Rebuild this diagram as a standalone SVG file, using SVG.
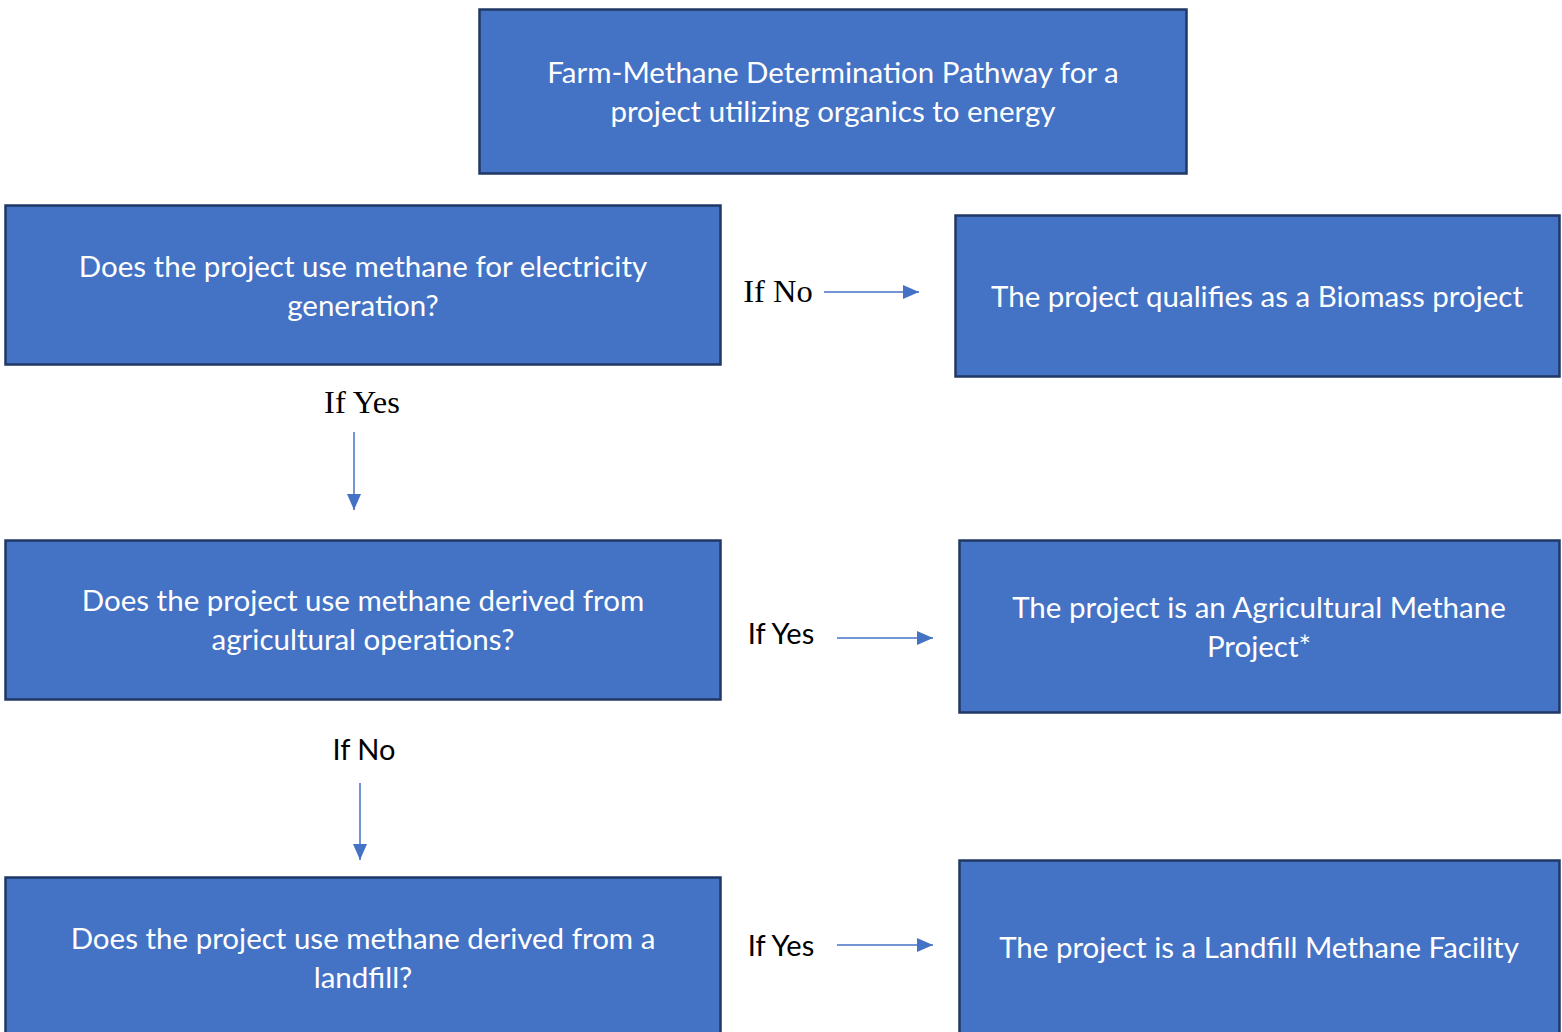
<svg xmlns="http://www.w3.org/2000/svg" width="1562" height="1032" viewBox="0 0 1562 1032">
<defs>
<style>
.box{fill:#4472C4;stroke:#1F3864;stroke-width:2.5}
.t{font-family:Lato,"Open Sans","Liberation Sans",sans-serif;font-size:29.5px;fill:#FFFFFF;text-anchor:middle}
.lbl{font-family:Lato,"Liberation Sans",sans-serif;font-size:29px;fill:#000000;text-anchor:middle}
.lser{font-family:"Liberation Serif","Times New Roman",serif;font-size:32.5px;fill:#000000;text-anchor:middle}
.c{stroke:#4472C4;stroke-width:1.5;fill:none;marker-end:url(#ah)}
</style>
<marker id="ah" viewBox="0 0 16 14" refX="16" refY="7" markerWidth="16" markerHeight="14" markerUnits="userSpaceOnUse" orient="auto">
<path d="M0,0 L16,7 L0,14 Z" fill="#4472C4"/>
</marker>
</defs>
<rect width="1562" height="1032" fill="#FFFFFF"/>
<g id="title">
<rect class="box" x="479.5" y="9.5" width="707" height="164"/>
<text class="t" x="833" y="83">Farm-Methane Determination Pathway for a</text>
<text class="t" x="833" y="122">project utilizing organics to energy</text>
</g>
<g id="q1">
<rect class="box" x="5.5" y="205.5" width="715" height="159"/>
<text class="t" x="363" y="277">Does the project use methane for electricity</text>
<text class="t" x="363" y="316">generation?</text>
</g>
<g id="biomass">
<rect class="box" x="955.5" y="215.5" width="604" height="161"/>
<text class="t" x="1257" y="307">The project qualifies as a Biomass project</text>
</g>
<g id="q2">
<rect class="box" x="5.5" y="540.5" width="715" height="159"/>
<text class="t" x="363" y="611">Does the project use methane derived from</text>
<text class="t" x="363" y="650">agricultural operations?</text>
</g>
<g id="agri">
<rect class="box" x="959.5" y="540.5" width="600" height="172"/>
<text class="t" x="1259" y="618">The project is an Agricultural Methane</text>
<text class="t" x="1259" y="657">Project*</text>
</g>
<g id="q3">
<rect class="box" x="5.5" y="877.5" width="715" height="170"/>
<text class="t" x="363" y="949">Does the project use methane derived from a</text>
<text class="t" x="363" y="988">landfill?</text>
</g>
<g id="landfill">
<rect class="box" x="959.5" y="860.5" width="600" height="190"/>
<text class="t" x="1259" y="958">The project is a Landfill Methane Facility</text>
</g>
<g id="connectors">
<line class="c" x1="824" y1="292" x2="919" y2="292"/>
<line class="c" x1="354" y1="432" x2="354" y2="510"/>
<line class="c" x1="837" y1="638" x2="933" y2="638"/>
<line class="c" x1="360" y1="783" x2="360" y2="860"/>
<line class="c" x1="837" y1="945" x2="933" y2="945"/>
<text class="lser" x="778" y="302">If No</text>
<text class="lser" x="362" y="413">If Yes</text>
<text class="lbl" x="781" y="644">If Yes</text>
<text class="lbl" x="364" y="760">If No</text>
<text class="lbl" x="781" y="956">If Yes</text>
</g>
</svg>
